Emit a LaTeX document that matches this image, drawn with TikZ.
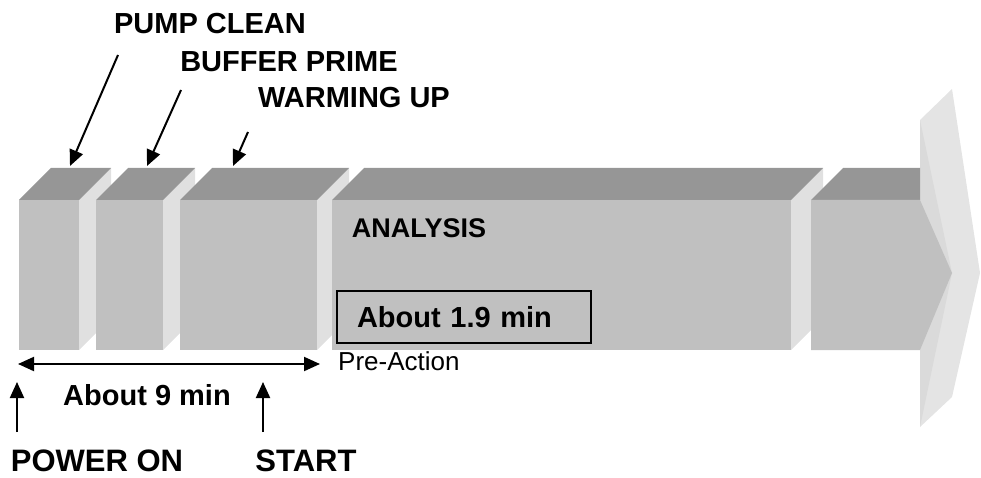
\documentclass[tikz,border=0pt]{standalone}
\usepackage{fontspec}
\setmainfont{Liberation Sans}
\usetikzlibrary{arrows.meta}
\definecolor{face-front}{HTML}{C0C0C0}
\definecolor{face-top}{HTML}{969696}
\definecolor{face-side}{HTML}{E0E0E0}
\definecolor{head-front}{HTML}{DADADA}
\definecolor{head-side}{HTML}{E4E4E4}

\begin{document}
\begin{tikzpicture}[
 x=1pt, y=-1pt,
 tag/.style={font=\fontsize{29}{32}\selectfont\bfseries, inner sep=0pt},
 mid/.style={font=\fontsize{29}{32}\selectfont\bfseries, inner sep=0pt},
 big/.style={font=\fontsize{31}{35}\selectfont\bfseries, inner sep=0pt},
 note/.style={font=\fontsize{26}{29}\selectfont, inner sep=0pt},
 ar/.style={-{Triangle[length=16pt,width=14pt]}, line width=2pt},
 dar/.style={{Triangle[length=16pt,width=14pt]}-{Triangle[length=16pt,width=14pt]}, line width=2pt},
]
 \useasboundingbox (0,0) rectangle (981,478);
 % blocks, left and right edge of the front face
 \foreach \l/\r in {19/79, 96/163, 180/317, 332/791} {
  \fill[face-side] (\r,200) -- (\r+32,168) -- (\r+32,318) -- (\r,350) -- cycle;
  \fill[face-top] (\l,200) -- (\l+32,168) -- (\r+32,168) -- (\r,200) -- cycle;
  \fill[face-front] (\l,200) rectangle (\r,350);
 }
 % last block with the head
 \fill[head-side] (920,120) -- (952,89) -- (980,273) -- (952,397) -- (920,427) -- cycle;
 \fill[head-front] (920,120) -- (952,273) -- (920,427) -- cycle;
 \fill[face-top] (811,200) -- (843,168) -- (920,168) -- (920,200) -- cycle;
 \fill[face-front] (811,200) -- (920,200) -- (952,273) -- (920,350) -- (811,350) -- cycle;

 \node[tag] (pumpclean) at (210,24) {PUMP CLEAN};
 \node[tag] (bufferprime) at (289,62) {BUFFER PRIME};
 \node[tag] (warmingup) at (354,98) {WARMING UP};
 \node[font=\fontsize{27}{30}\selectfont\bfseries, inner sep=0pt] (analysis) at (419,228) {ANALYSIS};
 \node[mid, draw, line width=2pt, anchor=west, text width=214pt, inner xsep=20pt,
  minimum height=52pt, align=left] (timebox) at (336,317) {About 1.9 min};
 \node[note, anchor=west] (preaction) at (338,361) {Pre-Action};
 \node[mid] (aboutnine) at (147,395) {About 9 min};
 \node[big] (poweron) at (97,461) {POWER ON};
 \node[big] (start) at (306,461) {START};

 \coordinate (pc-from) at (118,55);
 \coordinate (pc-to) at (70,166);
 \coordinate (bp-from) at (181,90);
 \coordinate (bp-to) at (147,166);
 \coordinate (wu-from) at (248,132);
 \coordinate (wu-to) at (233,166);
 \coordinate (span-l) at (18,364);
 \coordinate (span-r) at (320,364);
 \coordinate (pw-from) at (17,432);
 \coordinate (pw-to) at (17,382);
 \coordinate (st-from) at (263,432);
 \coordinate (st-to) at (263,382);

 \draw[ar] (pc-from) -- (pc-to);
 \draw[ar] (bp-from) -- (bp-to);
 \draw[ar] (wu-from) -- (wu-to);
 \draw[dar] (span-l) -- (span-r);
 \draw[ar] (pw-from) -- (pw-to);
 \draw[ar] (st-from) -- (st-to);
\end{tikzpicture}
\end{document}
